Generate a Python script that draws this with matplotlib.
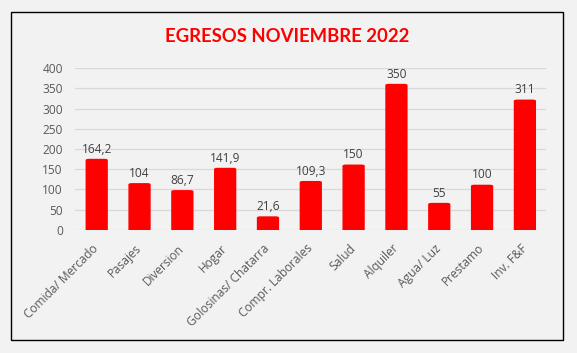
import numpy as np
import matplotlib
matplotlib.use("Agg")
import matplotlib.pyplot as plt
from matplotlib.patches import FancyBboxPatch, Rectangle

# datos
categorias = ["Comida/ Mercado", "Pasajes", "Diversion", "Hogar", "Golosinas/ Chatarra",
              "Compr. Laborales", "Salud", "Alquiler", "Agua/ Luz", "Prestamo", "Inv. F&F"]
valores = [164.2, 104, 86.7, 141.9, 21.6, 109.3, 150, 350, 55, 100, 311]
etiquetas = ["164,2", "104", "86,7", "141,9", "21,6", "109,3", "150", "350", "55", "100", "311"]
yticks = [0, 50, 100, 150, 200, 250, 300, 350, 400]

plt.rcParams['font.family'] = ['Open Sans', 'DejaVu Sans']

W, H = 577, 353
fig = plt.figure(figsize=(W / 100, H / 100), dpi=100, facecolor='#f2f2f2')
ax = fig.add_axes([75.3 / W, 1 - 229.7 / H, 471 / W, 161.4 / H])
ax.set_facecolor('#f2f2f2')

# marco del grafico
fig.add_artist(Rectangle((11.5 / W, 1 - 339.5 / H), 551 / W, 328 / H,
                         transform=fig.transFigure, fill=False, edgecolor='black', lw=1.0))

x = np.arange(len(categorias))
bars = ax.bar(x, valores, width=0.52, color='#ff0000', zorder=3)

# barras con borde superior redondeado (como en Excel)
cap = 11.5
for b, v in zip(bars, valores):
    b.set_visible(False)
    p = FancyBboxPatch((b.get_x(), -20), b.get_width(), v + cap + 20,
                       boxstyle="round,pad=0,rounding_size=0.08",
                       mutation_aspect=38, facecolor='#ff0000', edgecolor='none', zorder=3)
    ax.add_patch(p)

for xi, v, t in zip(x, valores, etiquetas):
    ax.text(xi, v + cap + 8, t, ha='center', va='bottom', fontsize=8.6, color='#404040')

ax.set_ylim(0, 400)
ax.set_xlim(-0.5, len(categorias) - 0.5)
ax.set_yticks(yticks)
ax.yaxis.grid(True, color='#d9d9d9', lw=0.9, zorder=0)
ax.set_axisbelow(True)
for s in ax.spines.values():
    s.set_visible(False)
ax.tick_params(length=0, colors='#595959', labelsize=8.6)
ax.tick_params(axis='y', pad=9)
ax.set_xticks(x)
ax.set_xticklabels(categorias, rotation=45, ha='right', va='center', rotation_mode='anchor',
                   fontsize=8.6, color='#595959')
ax.tick_params(axis='x', pad=12)

fig.text(287 / W, 1 - 36 / H, "EGRESOS NOVIEMBRE 2022", ha='center', va='center',
         fontsize=13.3, fontweight='bold', color='#ff0000', family=['Lato', 'DejaVu Sans'])

fig.savefig("out.png", dpi=100, facecolor=fig.get_facecolor())
